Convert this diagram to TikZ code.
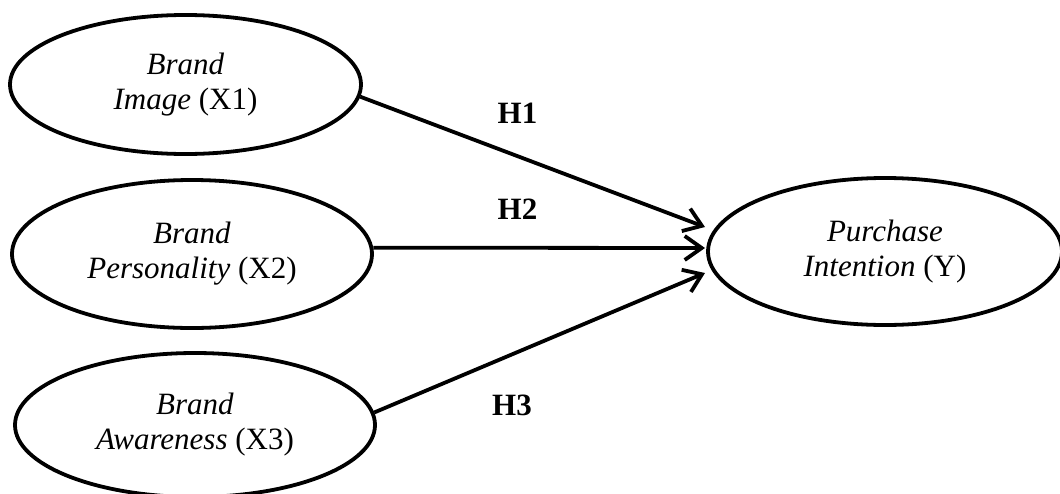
\documentclass[tikz,border=0pt]{standalone}
\usepackage{fontspec}
\setmainfont{Liberation Serif}
\usetikzlibrary{arrows.meta,shapes.geometric}
\begin{document}
\begin{tikzpicture}[x=1pt,y=-1pt,
  var/.style={ellipse,draw,line width=3.8pt,fill=white,inner sep=0pt,align=center,
    font=\fontsize{31}{35}\selectfont},
  hyp/.style={fill=white,inner xsep=20pt,inner ysep=11pt,
    font=\fontsize{31}{35}\selectfont\bfseries},
  link/.style={line width=3.8pt,-{Straight Barb[length=17pt,width=24pt]}}]
\useasboundingbox (0,0) rectangle (1060,493);
\node[var,minimum width=351pt,minimum height=139pt] (X1) at (185.5,84.5)
  {\textit{Brand}\\\textit{Image} (X1)};
\node[var,minimum width=360pt,minimum height=148pt] (X2) at (192,254)
  {\textit{Brand}\\\textit{Personality} (X2)};
\node[var,minimum width=360pt,minimum height=144pt] (X3) at (195,425)
  {\textit{Brand}\\\textit{Awareness} (X3)};
\node[var,minimum width=354pt,minimum height=147pt] (Y) at (885,251.5)
  {\textit{Purchase}\\\textit{Intention} (Y)};
\coordinate (t1) at (705,227);
\coordinate (t2) at (705,248);
\coordinate (t3) at (705,273);
\draw[link] (X1.-4.5) -- (t1);
\draw[link] (X2.2) -- (t2);
\draw[link] (X3.4.2) -- (t3);
\node[hyp] (H1) at (517.5,113) {H1};
\node[hyp] (H2) at (517.5,209) {H2};
\node[hyp] (H3) at (512,405) {H3};
\end{tikzpicture}
\end{document}
